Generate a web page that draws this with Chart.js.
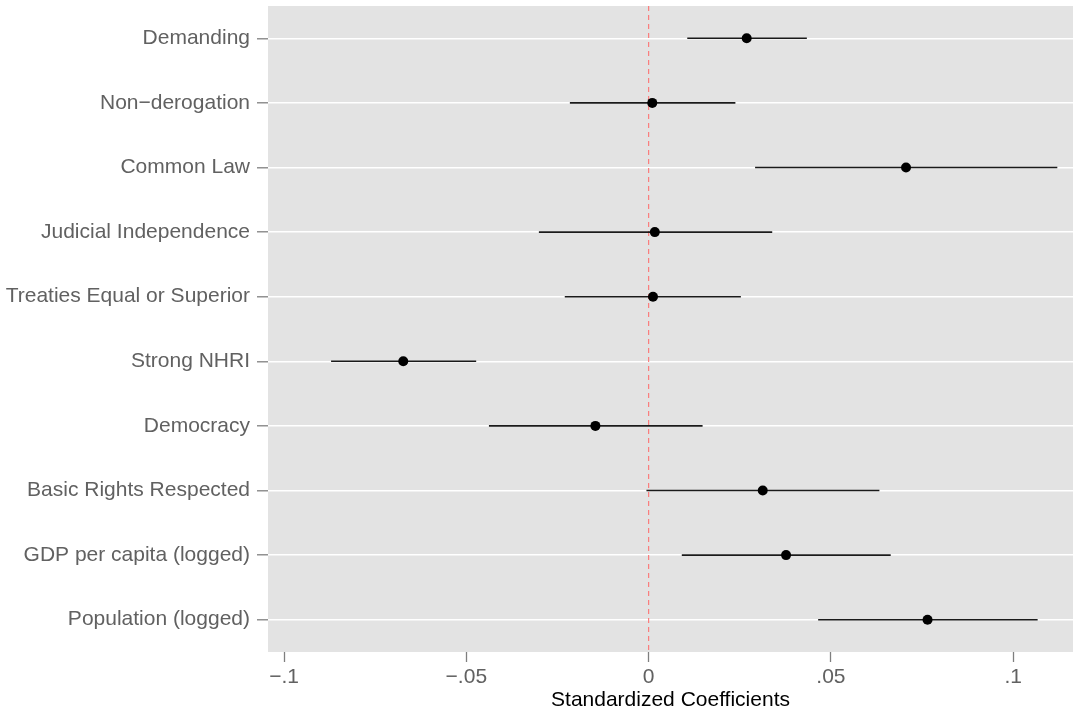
<!DOCTYPE html>
<html>
<head>
<meta charset="utf-8">
<script src="https://cdn.jsdelivr.net/npm/chart.js@4"></script>
<style>
  html, body { margin: 0; padding: 0; background: #fff; }
</style>
</head>
<body>
<canvas id="chart" width="1073" height="713"></canvas>
<script>
// ── data (top to bottom) ──
const variables = [
  'Demanding', 'Non\u2212derogation', 'Common Law', 'Judicial Independence',
  'Treaties Equal or Superior', 'Strong NHRI', 'Democracy',
  'Basic Rights Respected', 'GDP per capita (logged)', 'Population (logged)'
];
const estimates = [0.0269, 0.0010, 0.0706, 0.0017, 0.0012, -0.0673, -0.0146, 0.0313, 0.0377, 0.0765];
const lowerCI   = [0.0106, -0.0216, 0.0292, -0.0301, -0.0230, -0.0871, -0.0438, -0.0006, 0.0091, 0.0465];
const upperCI   = [0.0434, 0.0238, 0.1121, 0.0339, 0.0253, -0.0473, 0.0148, 0.0633, 0.0664, 0.1067];

const xTicks      = [-0.1, -0.05, 0, 0.05, 0.1];
const xTickLabels = ['\u2212.1', '\u2212.05', '0', '.05', '.1'];
const xRange      = [-0.1044, 0.1164];

const FONT      = 'Liberation Sans, Arial, Helvetica, sans-serif';
const AXIS_GREY = '#616161';
const TICK_GREY = '#7f7f7f';

const panelBg = {
  id: 'panelBg',
  beforeDraw(chart) {
    const { ctx, chartArea: a } = chart;
    ctx.save();
    ctx.fillStyle = '#e3e3e3';
    ctx.fillRect(a.left, a.top, a.right - a.left, a.bottom - a.top);
    ctx.restore();
  }
};

const errorBars = variables.map((name, i) => ({
  label: name,
  data: [{ x: lowerCI[i], y: i }, { x: upperCI[i], y: i }],
  showLine: true, borderColor: '#1a1a1a', borderWidth: 1.6,
  pointRadius: 0, order: 2
}));

const points = {
  label: 'Estimate',
  data: estimates.map((v, i) => ({ x: v, y: i })),
  pointRadius: 5, pointBackgroundColor: '#000', pointBorderWidth: 0,
  order: 1
};

const zeroLine = {
  label: 'zero',
  data: [{ x: 0, y: -0.5 }, { x: 0, y: 9.5 }],
  showLine: true, borderColor: '#fa7c7c', borderWidth: 1.2, borderDash: [5, 4],
  pointRadius: 0, order: 3
};

new Chart(document.getElementById('chart').getContext('2d'), {
  type: 'scatter',
  data: { datasets: [points, ...errorBars, zeroLine] },
  plugins: [panelBg],
  options: {
    responsive: false, animation: false,
    layout: { autoPadding: false, padding: { top: 6, right: 0, left: 0, bottom: 0 } },
    plugins: { legend: { display: false }, tooltip: { enabled: false } },
    scales: {
      x: {
        type: 'linear', min: xRange[0], max: xRange[1],
        afterBuildTicks: s => { s.ticks = xTicks.map(v => ({ value: v })); },
        afterFit: s => { s.height = 61; s.paddingLeft = 0; s.paddingRight = 0; },
        ticks: { callback: (v, i) => xTickLabels[i], color: AXIS_GREY, font: { family: FONT, size: 21 }, padding: 3, maxRotation: 0 },
        grid: { drawOnChartArea: false, tickColor: TICK_GREY, tickLength: 10, tickWidth: 1.3 },
        border: { display: false },
        title: { display: true, text: 'Standardized Coefficients', color: '#000', font: { family: FONT, size: 21 }, padding: 0 }
      },
      y: {
        type: 'linear', reverse: true, min: -0.5, max: 9.5,
        afterBuildTicks: s => { s.ticks = variables.map((_, i) => ({ value: i })); },
        afterFit: s => { s.width = 268; s.paddingTop = 0; s.paddingBottom = 0; },
        ticks: { callback: (v, i) => variables[i], color: AXIS_GREY, font: { family: FONT, size: 21 }, padding: 7, autoSkip: false },
        grid: { color: '#ffffff', lineWidth: 1.6, tickColor: TICK_GREY, tickLength: 11, tickWidth: 1.3 },
        border: { display: false }
      }
    }
  }
});
</script>
</body>
</html>
